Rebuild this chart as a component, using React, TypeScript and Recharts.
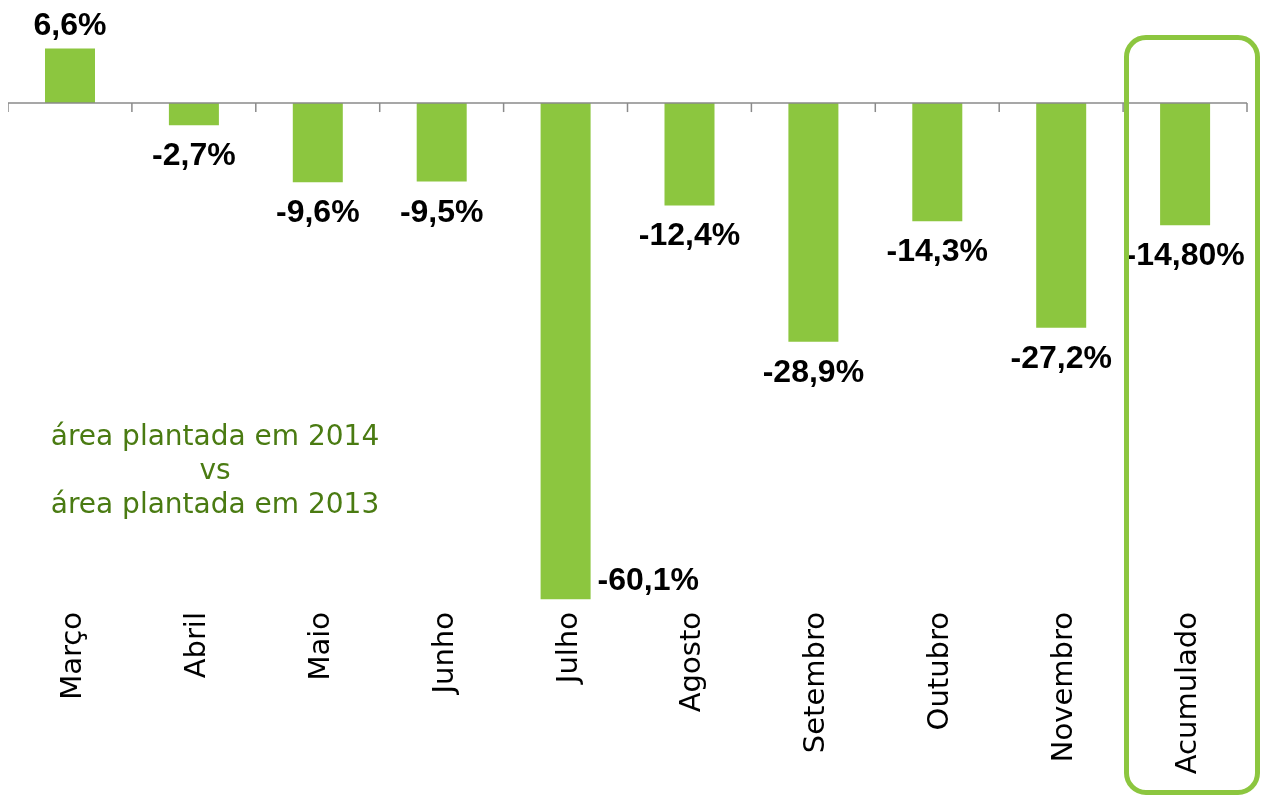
import { BarChart, Bar, XAxis, YAxis, ReferenceLine, LabelList } from 'recharts';

const months = ['Março', 'Abril', 'Maio', 'Junho', 'Julho', 'Agosto', 'Setembro', 'Outubro', 'Novembro', 'Acumulado'];
const variation = [6.6, -2.7, -9.6, -9.5, -60.1, -12.4, -28.9, -14.3, -27.2, -14.8];
const valueLabels = ['6,6%', '-2,7%', '-9,6%', '-9,5%', '-60,1%', '-12,4%', '-28,9%', '-14,3%', '-27,2%', '-14,80%'];
const noteLines = ['área plantada em 2014', 'vs', 'área plantada em 2013'];

const data = months.map((m, i) => ({ name: m, value: variation[i], label: valueLabels[i] }));

const GREEN = '#8cc63f';
const FONT = '"DejaVu Sans", sans-serif';
const LABEL_FONT = '"Liberation Sans", Arial, sans-serif';

const MonthTick = (props: any) => {
  const { x, y, payload } = props;
  return (
    <text
      transform={`translate(${x + 11},${y - 3}) rotate(-90)`}
      textAnchor="end"
      fontFamily={FONT}
      fontSize={29}
      fill="#000"
    >
      {payload.value}
    </text>
  );
};

const ValueLabel = (props: any) => {
  const { x, y, width, height, index } = props;
  const top = Math.min(y, y + height);
  const bottom = Math.max(y, y + height);
  const v = variation[index];
  const common = { fontFamily: LABEL_FONT, fontSize: 32, fontWeight: 'bold', fill: '#000' };
  if (months[index] === 'Julho') {
    return (
      <text x={x + width + 7} y={bottom - 9} textAnchor="start" {...common}>
        {valueLabels[index]}
      </text>
    );
  }
  if (v >= 0) {
    return (
      <text x={x + width / 2} y={top - 14} textAnchor="middle" {...common}>
        {valueLabels[index]}
      </text>
    );
  }
  return (
    <text x={x + width / 2} y={bottom + 40} textAnchor="middle" {...common}>
      {valueLabels[index]}
    </text>
  );
};

const ZeroAxis = (props: any) => {
  const { x1, y1, x2 } = props;
  const n = months.length;
  const step = (x2 - x1) / n;
  return (
    <g>
      <line x1={x1} y1={y1} x2={x2} y2={y1} stroke="#8a8a8a" strokeWidth={1.5} />
      {Array.from({ length: n + 1 }, (_, i) => (
        <line key={i} x1={x1 + i * step} y1={y1} x2={x1 + i * step} y2={y1 + 9} stroke="#8a8a8a" strokeWidth={1.5} />
      ))}
    </g>
  );
};

export default function App() {
  return (
    <div style={{ position: 'fixed', left: 8, top: 0, width: 1253, height: 796 }}>
      <BarChart width={1253} height={796} data={data} margin={{ top: 37, right: 14, left: 0, bottom: 0 }}>
        <XAxis
          dataKey="name"
          interval={0}
          axisLine={false}
          tickLine={false}
          tickSize={0}
          tickMargin={0}
          height={181}
          tick={<MonthTick />}
        />
        <YAxis hide domain={[-62, 8]} allowDataOverflow />
        <Bar dataKey="value" fill={GREEN} barSize={50} isAnimationActive={false}>
          <LabelList dataKey="label" content={<ValueLabel />} />
        </Bar>
        <ReferenceLine y={0} shape={<ZeroAxis />} ifOverflow="visible" />
      </BarChart>
      <div
        style={{
          position: 'absolute',
          left: 7,
          top: 419,
          width: 400,
          textAlign: 'center',
          fontFamily: FONT,
          fontSize: 28,
          lineHeight: '34px',
          color: '#4a7b12',
        }}
      >
        {noteLines.map((l) => (
          <div key={l}>{l}</div>
        ))}
      </div>
      <div
        style={{
          position: 'absolute',
          left: 1116,
          top: 35,
          width: 136,
          height: 760,
          boxSizing: 'border-box',
          border: `5px solid ${GREEN}`,
          borderRadius: 22,
        }}
      />
    </div>
  );
}
